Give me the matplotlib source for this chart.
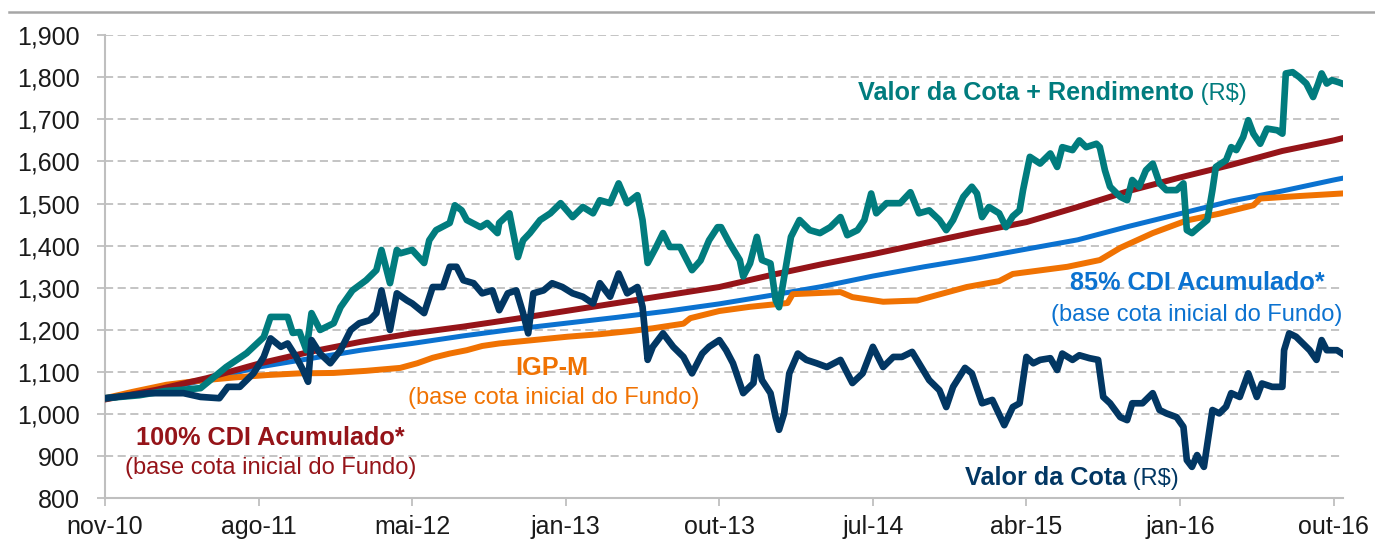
import matplotlib
matplotlib.use("Agg")
import matplotlib.pyplot as plt
from matplotlib.lines import Line2D
from matplotlib.ticker import FuncFormatter

plt.rcParams['font.family'] = ['Liberation Sans', 'DejaVu Sans']

# x in months since nov-10
tick_months = [0, 9, 18, 27, 36, 45, 54, 63, 72]
tick_labels = ['nov-10', 'ago-11', 'mai-12', 'jan-13', 'out-13', 'jul-14', 'abr-15', 'jan-16', 'out-16']

# Valor da Cota + Rendimento (R$)
rend_m = [0.0, 2.0, 3.5, 4.6, 5.6, 7.1, 8.3, 9.3, 9.7, 10.7, 11.0, 11.4, 11.8, 12.1, 12.6, 13.4, 13.8,
          14.5, 15.3, 15.9, 16.2, 16.7, 17.1, 17.3, 18.0, 18.7, 19.0, 19.4, 20.2, 20.5, 20.9, 21.2, 22.0,
          22.4, 23.0, 23.1, 23.7, 24.2, 24.5, 24.9, 25.5, 26.1, 26.7, 27.4, 28.0, 28.6, 29.0, 29.6, 30.1,
          30.6, 31.2, 31.5, 31.8, 32.3, 32.7, 33.1, 33.7, 34.4, 34.9, 35.4, 35.9, 36.1, 36.6, 37.2, 37.4,
          37.8, 38.2, 38.5, 39.0, 39.3, 39.5, 39.9, 40.2, 40.7, 41.3, 41.9, 42.5, 43.1, 43.5, 44.1, 44.5,
          44.9, 45.2, 45.8, 46.6, 47.2, 47.7, 48.3, 48.9, 49.3, 49.7, 50.3, 50.8, 51.1, 51.4, 51.8, 52.4,
          52.8, 53.2, 53.6, 53.8, 54.2, 54.8, 55.4, 55.8, 56.1, 56.7, 57.1, 57.5, 58.1, 58.3, 58.6, 58.9,
          59.5, 59.9, 60.2, 60.6, 61.0, 61.4, 61.8, 62.2, 62.8, 63.2, 63.4, 63.7, 64.1, 64.6, 64.9, 65.1,
          65.7, 66.0, 66.3, 66.7, 67.0, 67.3, 67.7, 68.1, 68.7, 69.0, 69.2, 69.6, 70.0, 70.4, 70.8, 71.1,
          71.3, 71.6, 71.9, 72.3, 72.5]
rend_v = [1038, 1045, 1055, 1058, 1062, 1112, 1145, 1183, 1231, 1231, 1193, 1195, 1152, 1240, 1200, 1216, 1254,
          1294, 1318, 1342, 1390, 1311, 1390, 1382, 1390, 1359, 1413, 1437, 1454, 1496, 1484, 1461, 1444,
          1454, 1430, 1454, 1477, 1373, 1413, 1430, 1461, 1477, 1501, 1468, 1492, 1477, 1508, 1501, 1548,
          1501, 1520, 1461, 1359, 1397, 1430, 1397, 1397, 1342, 1365, 1413, 1444, 1444, 1406, 1366, 1327,
          1358, 1421, 1366, 1358, 1271, 1254, 1350, 1421, 1461, 1437, 1430, 1444, 1468, 1425, 1437, 1461,
          1524, 1477, 1501, 1501, 1527, 1477, 1484, 1461, 1437, 1461, 1516, 1540, 1524, 1468, 1492, 1477,
          1444, 1470, 1484, 1532, 1611, 1595, 1619, 1587, 1634, 1627, 1650, 1634, 1642, 1634, 1579, 1540,
          1516, 1508, 1556, 1540, 1579, 1595, 1548, 1532, 1532, 1548, 1437, 1430, 1444, 1461, 1532, 1587,
          1603, 1634, 1627, 1658, 1698, 1666, 1642, 1678, 1674, 1666, 1809, 1812, 1800, 1785, 1753, 1785,
          1809, 1785, 1793, 1788, 1785]

# Valor da Cota (R$)
cota_m = [0.0, 2.6, 4.6, 5.6, 6.7, 7.2, 7.9, 8.7, 9.3, 9.7, 10.3, 10.7, 11.2, 11.6, 11.9, 12.1, 12.6, 13.2,
          13.8, 14.4, 14.9, 15.5, 15.9, 16.2, 16.7, 17.1, 17.7, 18.0, 18.7, 19.2, 19.8, 20.2, 20.6, 21.0,
          21.6, 22.1, 22.7, 23.1, 23.6, 24.1, 24.5, 24.8, 25.1, 25.7, 26.2, 26.8, 27.4, 28.0, 28.6, 29.0,
          29.6, 30.1, 30.6, 31.2, 31.5, 31.8, 32.1, 32.7, 33.3, 33.9, 34.4, 35.0, 35.4, 36.0, 36.4, 36.8,
          37.4, 38.0, 38.2, 38.5, 39.0, 39.3, 39.5, 39.8, 40.1, 40.6, 41.1, 41.7, 42.3, 43.1, 43.8, 44.4,
          45.0, 45.6, 46.2, 46.7, 47.3, 47.7, 48.3, 48.9, 49.3, 49.7, 50.4, 50.8, 51.4, 52.0, 52.7, 53.2,
          53.6, 54.0, 54.4, 54.8, 55.4, 55.8, 56.1, 56.7, 57.1, 57.7, 58.2, 58.5, 58.9, 59.5, 59.9, 60.2,
          60.8, 61.4, 61.8, 62.2, 62.8, 63.2, 63.4, 63.7, 64.0, 64.4, 64.7, 64.9, 65.3, 65.7, 66.0, 66.5,
          67.0, 67.5, 67.8, 68.4, 69.0, 69.1, 69.4, 69.8, 70.2, 70.6, 71.0, 71.3, 71.6, 72.2, 72.5]
cota_v = [1038, 1050, 1050, 1041, 1038, 1065, 1065, 1097, 1136, 1180, 1160, 1168, 1136, 1105, 1077, 1176, 1144, 1121,
          1152, 1200, 1216, 1223, 1240, 1294, 1200, 1287, 1270, 1263, 1240, 1302, 1302, 1350, 1350, 1318,
          1311, 1287, 1294, 1247, 1287, 1294, 1240, 1192, 1287, 1294, 1311, 1302, 1287, 1279, 1263, 1311,
          1279, 1334, 1287, 1302, 1255, 1129, 1160, 1192, 1160, 1136, 1097, 1144, 1160, 1176, 1152, 1121,
          1050, 1074, 1136, 1081, 1050, 993, 963, 1002, 1097, 1144, 1129, 1121, 1112, 1129, 1074, 1097,
          1160, 1112, 1136, 1136, 1148, 1121, 1081, 1057, 1017, 1065, 1110, 1097, 1026, 1034, 974, 1017,
          1026, 1136, 1121, 1129, 1133, 1105, 1144, 1129, 1140, 1133, 1129, 1041, 1026, 993, 986, 1026,
          1026, 1050, 1010, 1002, 993, 970, 891, 875, 903, 875, 955, 1010, 1002, 1018, 1050, 1041,
          1097, 1041, 1073, 1065, 1065, 1152, 1192, 1184, 1168, 1152, 1129, 1176, 1152, 1152, 1144]

# 100% CDI Acumulado
cdi100_m = [0, 3, 6, 9, 12, 15, 18, 21, 24, 27, 30, 33, 36, 39, 42, 45, 48, 51, 54, 57, 60, 63, 66, 69, 72, 72.5]
cdi100_v = [1035, 1058, 1086, 1120, 1148, 1172, 1192, 1208, 1226, 1245, 1264, 1283, 1302, 1330, 1356, 1380,
            1406, 1432, 1456, 1492, 1530, 1562, 1592, 1625, 1650, 1655]

# 85% CDI Acumulado
cdi85_m = [0, 3, 6, 9, 12, 15, 18, 21, 24, 27, 30, 33, 36, 39, 42, 45, 48, 51, 54, 57, 60, 63, 66, 69, 72, 72.5]
cdi85_v = [1035, 1057, 1082, 1112, 1132, 1152, 1168, 1186, 1202, 1216, 1230, 1245, 1262, 1282, 1303, 1328,
           1350, 1370, 1392, 1414, 1446, 1476, 1506, 1530, 1556, 1560]

# IGP-M
igpm_m = [0.0, 1.6, 3.6, 5.6, 7.5, 9.5, 11.4, 13.4, 15.3, 17.3, 18.3, 19.2, 20.2, 21.2, 22.1, 23.1, 25.1, 27.1,
          29.0, 30.9, 32.1, 33.9, 34.3, 36.0, 37.8, 40.0, 40.3, 43.1, 43.8, 45.6, 47.6, 48.5, 50.5, 52.4,
          53.2, 56.4, 58.3, 59.5, 61.4, 63.4, 65.3, 67.3, 67.7, 70.0, 72.5]
igpm_v = [1038, 1053, 1070, 1080, 1087, 1093, 1097, 1098, 1103, 1110, 1121, 1134, 1144, 1152, 1162, 1168, 1176, 1184,
          1190, 1198, 1204, 1215, 1228, 1245, 1255, 1264, 1285, 1290, 1278, 1267, 1270, 1280, 1302, 1316,
          1333, 1350, 1366, 1395, 1430, 1460, 1476, 1496, 1512, 1518, 1524]

c_teal = '#017C7E'
c_navy = '#023763'
c_red = '#951419'
c_blue = '#0B72D0'
c_orange = '#F07202'
c_grid = '#BFBFBF'

fig = plt.figure(figsize=(13.75, 5.4), dpi=100)
ax = fig.add_axes([0.0764, 0.0769, 0.9003, 0.8581])

ax.plot(cdi85_m, cdi85_v, color=c_blue, lw=3.6, solid_joinstyle='round', zorder=3)
ax.plot(igpm_m, igpm_v, color=c_orange, lw=4.3, solid_joinstyle='round', zorder=3)
ax.plot(cdi100_m, cdi100_v, color=c_red, lw=4.3, solid_joinstyle='round', zorder=3)
ax.plot(rend_m, rend_v, color=c_teal, lw=4.8, solid_joinstyle='round', zorder=4)
ax.plot(cota_m, cota_v, color=c_navy, lw=4.8, solid_joinstyle='round', zorder=4)

ax.set_xlim(0, 72.55)
ax.set_ylim(800, 1900)
ax.set_yticks(range(800, 2000, 100))
ax.yaxis.set_major_formatter(FuncFormatter(lambda v, p: f'{int(v):,}'))
ax.set_xticks(tick_months)
ax.set_xticklabels(tick_labels)

ax.grid(axis='y', color=c_grid, linestyle=(0, (4.5, 2.5)), lw=1.3, zorder=1)
ax.grid(axis='x', visible=False)
for s in ['top', 'right']:
    ax.spines[s].set_visible(False)
for s in ['left', 'bottom']:
    ax.spines[s].set_color(c_grid)
    ax.spines[s].set_linewidth(1.5)
ax.tick_params(axis='y', length=6, width=1.3, color=c_grid, pad=12, labelsize=18, labelcolor='#1a1a1a')
ax.tick_params(axis='x', length=6, width=1.3, color=c_grid, pad=6, labelsize=18, labelcolor='#1a1a1a')

fb = 18.2   # bold label size
fr = 17     # regular label size
t1 = ax.text(44.1, 1762, 'Valor da Cota + Rendimento', color=c_teal, fontsize=fb, fontweight='bold',
             ha='left', va='center')
ax.annotate(' (R$)', xy=(1, 0), xycoords=t1, va='bottom', ha='left', color=c_teal, fontsize=fr)

ax.text(26.2, 1110, 'IGP-M', color=c_orange, fontsize=fb, fontweight='bold', ha='center', va='center')
ax.text(26.3, 1038, '(base cota inicial do Fundo)', color=c_orange, fontsize=fr, ha='center', va='center')

ax.text(9.7, 943, '100% CDI Acumulado*', color=c_red, fontsize=fb, fontweight='bold', ha='center', va='center')
ax.text(9.7, 872, '(base cota inicial do Fundo)', color=c_red, fontsize=fr, ha='center', va='center')

ax.text(64.0, 1311, '85% CDI Acumulado*', color=c_blue, fontsize=fb, fontweight='bold', ha='center', va='center')
ax.text(64.0, 1235, '(base cota inicial do Fundo)', color=c_blue, fontsize=fr, ha='center', va='center')

t2 = ax.text(50.4, 849, 'Valor da Cota', color=c_navy, fontsize=fb, fontweight='bold', ha='left', va='center')
ax.annotate(' (R$)', xy=(1, 0), xycoords=t2, va='bottom', ha='left', color=c_navy, fontsize=fr)

fig.add_artist(Line2D([0.0065, 1.0], [0.978, 0.978], color='#A6A6A6', lw=1.8, transform=fig.transFigure))

fig.savefig('out.png', dpi=100)
